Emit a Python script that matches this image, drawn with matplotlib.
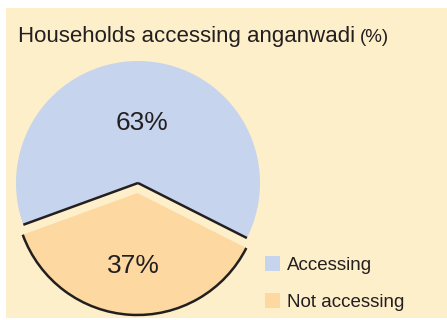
import numpy as np
import matplotlib
matplotlib.use("Agg")
import matplotlib.pyplot as plt
from matplotlib.patches import Rectangle, Arc

# data
labels = ["Accessing", "Not accessing"]
values = [63, 37]
pct_text = ["63%", "37%"]
colors = ["#C6D4ED", "#FDD9A1"]

bg = "#FDEFC9"
ink = "#231F20"
plt.rcParams["font.family"] = ["Liberation Sans", "DejaVu Sans"]

fig = plt.figure(figsize=(4.47, 3.2), dpi=100)
fig.patch.set_facecolor("white")
fig.patches.append(Rectangle((6 / 447, 2 / 320), 1, 310 / 320, transform=fig.transFigure,
                             facecolor=bg, edgecolor="none", zorder=-5))

# title (+ smaller "(%)" on the same baseline)
title_y = 1 - 42 / 320
t1 = fig.text(18 / 447, title_y, "Households accessing anganwadi", fontsize=16,
              color=ink, va="baseline", ha="left")
fig.canvas.draw()
bb = t1.get_window_extent(renderer=fig.canvas.get_renderer())
fig.text((bb.x1 + 5) / fig.bbox.width, title_y, "(%)", fontsize=13.5, color=ink,
         va="baseline", ha="left")

# pie axes (radius ~122 px)
ax = fig.add_axes([3.8 / 447, 2.8 / 320, 268.4 / 447, 268.4 / 320])

start = -26.8
explode = [0, 0.082]
wedges, _ = ax.pie(values, colors=colors, startangle=start, counterclock=True,
                   explode=explode, wedgeprops=dict(linewidth=0), frame=True)
ax.set_xlim(-1.1, 1.1)
ax.set_ylim(-1.1, 1.1)
ax.axis("off")

# blue slice radial edges
blue, orange = wedges
for ang in (blue.theta1, blue.theta2):
    a = np.deg2rad(ang)
    ax.plot([0, np.cos(a)], [0, np.sin(a)], color=ink, lw=1.8, solid_capstyle="butt", zorder=3)

# orange outer arc
ax.add_patch(Arc(orange.center, 2 * orange.r, 2 * orange.r, theta1=orange.theta1,
                 theta2=orange.theta2, color=ink, lw=1.8, zorder=3))

# percentage labels
for w, txt, d in zip(wedges, pct_text, [0.49, 0.6]):
    mid = np.deg2rad((w.theta1 + w.theta2) / 2)
    cx, cy = w.center
    ax.text(cx + d * np.cos(mid), cy + d * np.sin(mid), txt, fontsize=19, color=ink,
            ha="center", va="center")

handles = [Rectangle((0, 0), 1, 1, facecolor=c, edgecolor="none") for c in colors]
fig.legend(handles, labels, loc="lower left", bbox_to_anchor=(248 / 447, -8 / 320),
           frameon=False, fontsize=13.5, handlelength=0.8, handleheight=0.9,
           handletextpad=0.4, labelspacing=1.0, labelcolor=ink)

fig.savefig("out.png", dpi=100, facecolor=fig.get_facecolor())
